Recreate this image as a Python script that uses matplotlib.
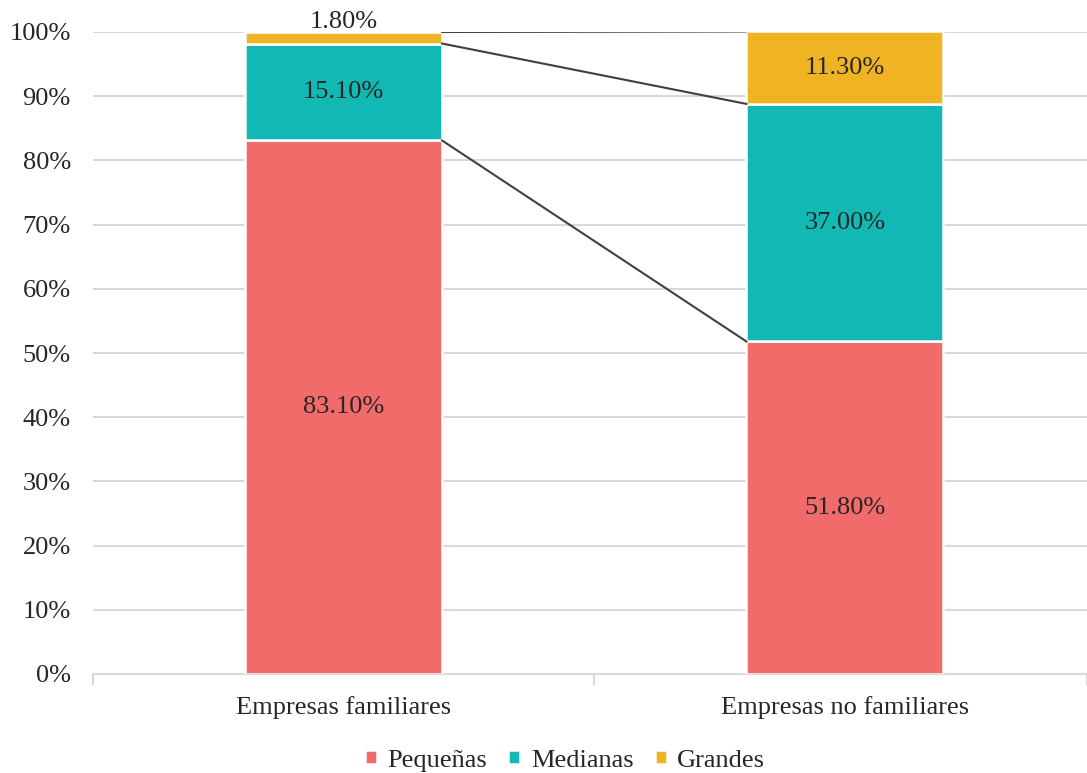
import matplotlib.pyplot as plt
import numpy as np

plt.rcParams['font.family'] = ['Liberation Serif', 'DejaVu Serif']
plt.rcParams['font.size'] = 19

categories = ['Empresas familiares', 'Empresas no familiares']
series = ['Pequeñas', 'Medianas', 'Grandes']
values = {
    'Pequeñas': [83.1, 51.8],
    'Medianas': [15.1, 37.0],
    'Grandes': [1.8, 11.3],
}
colors = {'Pequeñas': '#F26B6B', 'Medianas': '#12B8B3', 'Grandes': '#F0B323'}

fig = plt.figure(figsize=(10.87, 7.73), dpi=100)
ax = fig.add_axes([93 / 1087, 1 - 674 / 773, 1 - 93 / 1087, (674 - 32) / 773])

x = np.arange(len(categories))
w = 0.393
bottom = np.zeros(len(categories))
for s in series:
    v = np.array(values[s])
    ax.bar(x, v, w, bottom=bottom, color=colors[s], edgecolor='white',
           linewidth=1.8, label=s, zorder=3)
    for i in range(len(x)):
        yc = bottom[i] + v[i] / 2
        if v[i] < 5:
            yc = bottom[i] + v[i] + 1.6
        ax.text(x[i], yc, f'{v[i]:.2f}%', ha='center', va='center',
                color='#262626', zorder=5, clip_on=False)
    bottom = bottom + v
    # series connector lines
    ax.plot([x[0] + w / 2, x[1] - w / 2], [bottom[0], bottom[1]],
            color='#404040', lw=1.5, zorder=4)

ax.set_xlim(-0.5, 1.483)
ax.set_ylim(0, 100)
ax.set_yticks(np.arange(0, 101, 10))
ax.set_yticklabels([f'{t}%' for t in range(0, 101, 10)])
ax.yaxis.grid(True, color='#D9D9D9', lw=1.5, zorder=0)
ax.set_xticks(x)
ax.set_xticklabels(categories)
ax.set_xticks([-0.5, 0.5, 1.483], minor=True)
ax.tick_params(axis='x', which='major', length=0, pad=16, colors='#262626')
ax.tick_params(axis='x', which='minor', length=8, width=1.5, color='#D9D9D9')
ax.tick_params(axis='y', length=0, pad=16, colors='#262626')
for s in ['top', 'right', 'left']:
    ax.spines[s].set_visible(False)
ax.spines['bottom'].set_color('#D9D9D9')
ax.spines['bottom'].set_linewidth(1.5)

ax.legend(loc='center', bbox_to_anchor=(0.475, -0.135), ncol=3, frameon=False,
          handlelength=0.45, handleheight=0.45, handletextpad=0.4,
          columnspacing=0.8, labelcolor='#262626')

plt.savefig('out.png', dpi=100)
